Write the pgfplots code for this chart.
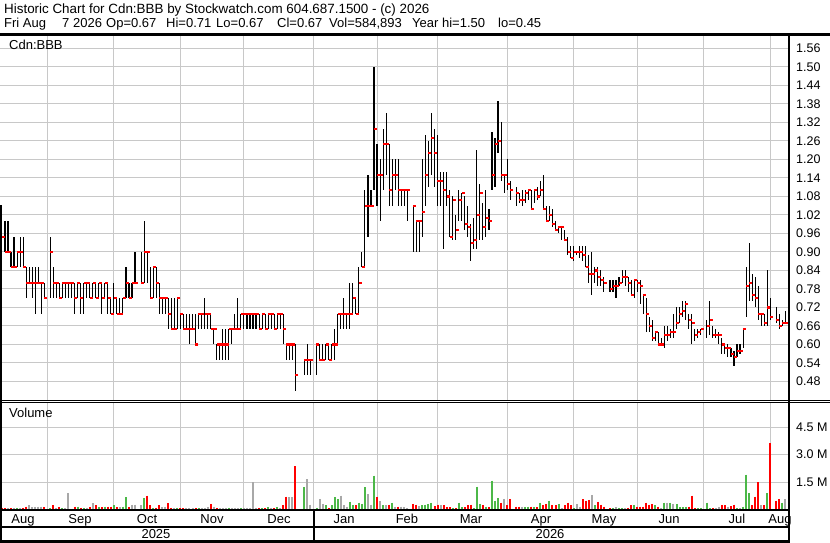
\documentclass[border=0pt]{standalone}
\usepackage{pgfplots}
\pgfplotsset{compat=1.18}
\usepackage{pgfplotstable}
\usepackage{fontspec}
\setmainfont{Liberation Sans}

\definecolor{gridgray}{RGB}{200,200,200}
\definecolor{volgreen}{RGB}{76,184,72}
\definecolor{volgray}{RGB}{168,168,168}
\definecolor{volred}{RGB}{255,0,0}

% daily bars: d = weekday number counted from Mon 1 Sep 2025
\pgfplotstableread{
d hi lo cl
-15 1.05 0.90 0.95
-14 1.00 0.90 0.90
-13 1.00 0.90 0.90
-12 0.90 0.85 0.85
-11 0.95 0.85 0.85
-10 0.90 0.85 0.90
-9 0.95 0.85 0.90
-8 0.95 0.85 0.85
-7 0.85 0.75 0.80
-6 0.85 0.80 0.80
-5 0.85 0.75 0.80
-4 0.85 0.70 0.80
-3 0.85 0.80 0.80
-2 0.80 0.70 0.80
-1 0.80 0.75 0.75
1 0.95 0.75 0.90
2 0.85 0.75 0.80
3 0.80 0.75 0.80
4 0.80 0.75 0.75
5 0.80 0.75 0.80
6 0.80 0.75 0.80
7 0.80 0.75 0.80
8 0.80 0.75 0.80
9 0.80 0.70 0.75
10 0.80 0.75 0.80
11 0.80 0.70 0.75
12 0.80 0.70 0.80
13 0.80 0.75 0.80
14 0.80 0.75 0.75
15 0.80 0.75 0.80
16 0.80 0.75 0.75
17 0.80 0.75 0.80
18 0.80 0.70 0.75
19 0.80 0.75 0.80
20 0.80 0.70 0.75
21 0.75 0.70 0.70
22 0.80 0.70 0.75
23 0.75 0.70 0.70
24 0.75 0.70 0.70
25 0.75 0.70 0.75
26 0.85 0.75 0.80
27 0.80 0.75 0.75
28 0.80 0.75 0.80
29 0.90 0.80 0.80
31 0.90 0.80 0.80
32 1.00 0.80 0.90
33 0.90 0.80 0.90
34 0.85 0.75 0.75
35 0.85 0.75 0.85
36 0.85 0.75 0.80
37 0.80 0.70 0.75
38 0.75 0.70 0.75
39 0.75 0.70 0.75
40 0.75 0.65 0.70
41 0.75 0.65 0.65
42 0.75 0.65 0.65
43 0.75 0.65 0.75
44 0.70 0.65 0.70
45 0.70 0.65 0.65
46 0.70 0.65 0.65
47 0.70 0.60 0.65
48 0.70 0.65 0.65
49 0.70 0.60 0.60
50 0.70 0.65 0.70
51 0.70 0.65 0.70
52 0.75 0.65 0.70
53 0.70 0.65 0.70
54 0.70 0.65 0.65
55 0.65 0.60 0.65
56 0.60 0.55 0.60
57 0.60 0.55 0.60
58 0.65 0.55 0.60
59 0.65 0.55 0.60
60 0.65 0.55 0.65
61 0.65 0.60 0.65
62 0.70 0.65 0.65
63 0.75 0.65 0.65
64 0.70 0.65 0.70
65 0.70 0.65 0.70
66 0.70 0.65 0.70
67 0.70 0.65 0.70
68 0.70 0.65 0.70
69 0.70 0.65 0.70
70 0.70 0.65 0.65
71 0.70 0.65 0.70
72 0.70 0.65 0.65
73 0.70 0.65 0.70
74 0.70 0.65 0.70
75 0.70 0.65 0.65
76 0.70 0.65 0.70
77 0.70 0.65 0.70
78 0.70 0.60 0.65
79 0.60 0.55 0.60
80 0.60 0.55 0.60
81 0.60 0.55 0.60
82 0.60 0.45 0.50
85 0.55 0.50 0.55
86 0.60 0.50 0.55
87 0.55 0.50 0.55
89 0.60 0.50 0.60
90 0.60 0.55 0.55
91 0.60 0.55 0.55
92 0.60 0.55 0.60
93 0.60 0.55 0.55
94 0.60 0.55 0.60
95 0.65 0.55 0.60
96 0.70 0.60 0.70
97 0.70 0.65 0.70
98 0.75 0.65 0.70
99 0.70 0.65 0.70
100 0.80 0.65 0.70
101 0.80 0.70 0.75
102 0.75 0.70 0.70
103 0.85 0.70 0.80
104 0.90 0.85 0.85
105 1.10 0.85 1.05
106 1.15 0.95 1.05
107 1.10 1.05 1.05
108 1.50 1.10 1.30
109 1.25 1.05 1.15
110 1.20 1.00 1.15
111 1.30 1.10 1.25
112 1.35 1.15 1.25
113 1.25 1.05 1.10
114 1.20 1.05 1.15
115 1.20 1.10 1.15
116 1.20 1.05 1.10
117 1.10 1.05 1.10
118 1.10 1.05 1.10
119 1.10 1.00 1.10
121 1.05 0.90 1.05
122 1.00 0.90 1.00
123 1.00 0.90 1.00
124 1.20 0.95 1.03
125 1.28 1.05 1.15
126 1.26 1.11 1.22
127 1.35 1.15 1.27
128 1.30 1.11 1.22
129 1.28 1.05 1.13
130 1.16 1.05 1.13
131 1.16 0.91 1.10
132 1.16 1.05 1.08
133 1.10 0.95 0.95
134 1.08 0.94 1.07
135 1.02 0.94 0.97
136 1.10 1.00 1.07
137 1.09 1.00 1.09
138 1.08 0.97 0.99
139 1.05 0.95 0.98
140 0.99 0.87 0.93
141 1.01 0.91 0.94
142 1.23 0.91 1.02
143 1.12 0.94 1.09
144 1.06 0.94 0.98
145 1.10 0.95 1.01
146 1.04 0.97 1.00
147 1.29 1.10 1.15
148 1.27 1.11 1.25
149 1.39 1.22 1.26
150 1.32 1.13 1.15
151 1.15 1.09 1.15
152 1.20 1.10 1.12
153 1.13 1.07 1.10
155 1.11 1.05 1.09
156 1.09 1.06 1.07
157 1.10 1.05 1.07
158 1.10 1.06 1.09
159 1.10 1.07 1.10
160 1.10 1.04 1.04
161 1.10 1.06 1.10
162 1.11 1.07 1.08
163 1.13 1.08 1.10
164 1.15 1.04 1.04
165 1.05 1.00 1.00
166 1.05 1.00 1.02
167 1.04 0.98 0.99
168 1.00 0.97 0.97
169 0.98 0.96 0.98
170 0.98 0.94 0.98
171 0.97 0.94 0.94
172 0.95 0.89 0.90
173 0.92 0.88 0.88
174 0.92 0.87 0.90
175 0.90 0.89 0.90
176 0.92 0.88 0.90
177 0.92 0.87 0.89
178 0.92 0.86 0.85
179 0.89 0.80 0.83
180 0.90 0.76 0.83
181 0.85 0.80 0.84
182 0.85 0.79 0.82
183 0.84 0.79 0.81
184 0.82 0.77 0.80
186 0.81 0.77 0.78
187 0.81 0.77 0.79
188 0.81 0.75 0.79
189 0.82 0.79 0.80
190 0.84 0.80 0.82
191 0.84 0.79 0.82
192 0.82 0.77 0.80
193 0.81 0.76 0.76
194 0.81 0.75 0.81
195 0.81 0.77 0.80
196 0.81 0.73 0.79
197 0.76 0.70 0.76
198 0.75 0.64 0.70
199 0.69 0.64 0.66
200 0.68 0.61 0.62
201 0.64 0.61 0.64
202 0.64 0.60 0.60
203 0.62 0.60 0.60
204 0.66 0.59 0.63
205 0.66 0.61 0.63
206 0.65 0.62 0.64
207 0.70 0.62 0.64
208 0.72 0.65 0.67
209 0.72 0.67 0.70
210 0.74 0.69 0.71
211 0.74 0.68 0.73
212 0.70 0.65 0.68
213 0.70 0.60 0.67
214 0.65 0.61 0.63
215 0.65 0.62 0.64
216 0.65 0.63 0.65
218 0.68 0.62 0.66
219 0.74 0.63 0.68
220 0.66 0.62 0.63
221 0.65 0.62 0.63
222 0.64 0.60 0.63
223 0.62 0.57 0.60
224 0.60 0.57 0.59
225 0.60 0.56 0.59
226 0.59 0.56 0.57
227 0.58 0.53 0.56
228 0.60 0.56 0.58
229 0.60 0.57 0.58
230 0.65 0.59 0.65
231 0.85 0.69 0.79
232 0.93 0.74 0.80
233 0.83 0.74 0.76
234 0.82 0.72 0.75
235 0.79 0.68 0.70
236 0.70 0.66 0.70
237 0.70 0.66 0.67
238 0.84 0.66 0.72
239 0.75 0.68 0.69
241 0.72 0.67 0.68
242 0.70 0.65 0.66
243 0.68 0.66 0.67
244 0.71 0.67 0.67
}\pricedata

% volume in millions; c: 0 = down (red), 1 = up (green), 2 = unchanged (grey)
\pgfplotstableread{
d v c
-15 0.09 0
-14 0.06 0
-13 0.08 2
-12 0.06 0
-11 0.08 2
-10 0.06 1
-9 0.08 2
-8 0.09 0
-7 0.16 0
-6 0.22 2
-5 0.13 2
-4 0.13 2
-3 0.16 2
-2 0.16 2
-1 0.13 0
1 0.09 1
2 0.22 0
3 0.08 2
4 0.13 0
5 0.09 1
6 0.09 2
7 0.89 2
8 0.05 2
9 0.16 0
10 0.16 1
11 0.09 0
12 0.09 1
13 0.09 2
14 0.13 0
15 0.35 2
16 0.22 0
17 0.13 1
18 0.13 0
19 0.16 1
20 0.16 0
21 0.16 0
22 0.22 1
23 0.13 0
24 0.13 2
25 0.16 1
26 0.68 1
27 0.13 0
28 0.27 2
29 0.27 2
31 0.22 2
32 0.62 1
33 0.76 0
34 0.22 0
35 0.09 1
36 0.09 0
37 0.22 0
38 0.13 2
39 0.16 2
40 0.35 0
41 0.09 0
42 0.09 2
43 0.09 1
44 0.08 0
45 0.08 0
46 0.08 2
47 0.08 2
48 0.08 2
49 0.08 0
50 0.08 1
51 0.09 2
52 0.09 2
53 0.13 2
54 0.31 0
55 0.16 2
56 0.09 0
57 0.08 2
58 0.06 2
59 0.08 2
60 0.09 1
61 0.08 2
62 0.08 2
63 0.08 2
64 0.09 1
65 0.08 2
66 0.09 2
67 0.09 2
68 1.50 2
69 0.09 2
70 0.09 0
71 0.09 1
72 0.08 0
73 0.11 1
74 0.09 2
75 0.09 0
76 0.11 1
77 0.09 2
78 0.22 0
79 0.71 0
80 0.68 2
81 0.68 2
82 2.35 0
85 1.22 1
86 1.64 2
87 0.27 2
89 0.09 1
90 0.55 2
91 0.31 2
92 0.22 1
93 0.06 0
94 0.22 1
95 0.68 1
96 0.55 1
97 0.76 2
98 0.22 2
99 0.16 2
100 0.43 1
101 0.22 1
102 0.22 0
103 0.37 1
104 0.31 1
105 1.22 1
106 0.82 2
107 0.27 2
108 1.85 1
109 0.71 0
110 0.45 2
111 0.22 1
112 0.22 2
113 0.27 0
114 0.37 1
115 0.16 2
116 0.16 0
117 0.16 2
118 0.13 2
119 0.06 2
121 0.31 0
122 0.27 0
123 0.18 2
124 0.22 1
125 0.27 1
126 0.31 1
127 0.37 1
128 0.18 0
129 0.27 0
130 0.22 2
131 0.22 0
132 0.13 0
133 0.13 0
134 0.09 1
135 0.09 0
136 0.37 1
137 0.13 1
138 0.13 0
139 0.22 0
140 0.27 0
141 0.06 1
142 1.25 1
143 0.31 1
144 0.22 0
145 0.16 1
146 0.13 0
147 1.58 1
148 0.49 1
149 0.64 1
150 0.37 0
151 0.58 2
152 0.22 0
153 0.55 0
155 0.16 0
156 0.16 0
157 0.16 2
158 0.13 1
159 0.16 1
160 0.16 0
161 0.13 1
162 0.13 0
163 0.37 1
164 0.22 0
165 0.31 0
166 0.49 1
167 0.22 0
168 0.22 0
169 0.31 1
170 0.06 2
171 0.22 0
172 0.37 0
173 0.22 0
174 0.06 1
175 0.31 2
176 0.16 2
177 0.55 0
178 0.49 0
179 0.53 0
180 0.80 2
181 0.22 1
182 0.43 0
183 0.27 0
184 0.16 0
186 0.06 0
187 0.06 1
188 0.13 2
189 0.09 1
190 0.09 1
191 0.09 2
192 0.09 0
193 0.22 0
194 0.25 1
195 0.16 0
196 0.16 0
197 0.16 0
198 0.37 0
199 0.27 0
200 0.31 0
201 0.22 1
202 0.16 0
203 0.09 2
204 0.37 1
205 0.37 2
206 0.37 1
207 0.31 2
208 0.31 1
209 0.13 1
210 0.13 1
211 0.16 1
212 0.16 0
213 0.76 0
214 0.06 0
215 0.06 1
216 0.09 1
218 0.37 1
219 0.06 1
220 0.09 0
221 0.06 2
222 0.13 2
223 0.25 0
224 0.22 0
225 0.16 2
226 0.18 0
227 0.27 0
228 0.06 1
229 0.06 2
230 0.16 1
231 1.91 1
232 0.89 1
233 0.22 0
234 0.71 0
235 1.50 0
236 0.22 2
237 0.22 0
238 0.89 1
239 3.62 0
241 0.49 0
242 0.58 0
243 0.37 1
244 0.585 2
}\voldata

\tikzset{lab/.style={font=\fontsize{13bp}{15bp}\selectfont, inner sep=0pt}}
\pgfplotsset{
  panel/.style={
    scale only axis, width=789bp,
    xmin=-15.64, xmax=245.19,
    axis line style={draw=none}, major tick length=0pt,
    xtick={0,22,44,65,88,109,129,152,174,195,217,239}, xticklabels={},
    yticklabel pos=right,
    yticklabel style={font=\fontsize{12.5bp}{14bp}\selectfont, anchor=west, inner sep=0pt, xshift=7bp},
    grid=major, major grid style={draw=gridgray, line width=1bp},
  },
  volbar/.style={draw=none, mark=none, unbounded coords=discard,
    restrict expr to domain={\thisrow{c}}{#1:#1},
    error bars/.cd, y dir=minus, y explicit, error mark=none},
}

\begin{document}
\begin{tikzpicture}
\useasboundingbox (0bp,0bp) rectangle (830bp,543bp);

% price panel
\begin{axis}[panel, at={(0bp,143bp)}, anchor=south west, height=364bp,
  ymin=0.4199, ymax=1.6005,
  ytick={0.48,0.54,0.60,0.66,0.72,0.78,0.84,0.90,0.96,1.02,1.08,1.14,1.20,1.26,1.32,1.38,1.44,1.50,1.56},
  yticklabels={0.48,0.54,0.60,0.66,0.72,0.78,0.84,0.90,0.96,1.02,1.08,1.14,1.20,1.26,1.32,1.38,1.44,1.50,1.56},
]
\addplot[draw=none, mark=none,
  error bars/.cd, y dir=both, y explicit, error mark=none,
  error bar style={draw=black, solid, line width=1.1bp}]
  table[x=d, y=cl, y error plus expr=\thisrow{hi}-\thisrow{cl},
        y error minus expr=\thisrow{cl}-\thisrow{lo}] {\pricedata};
\addplot[only marks, mark=-, mark size=1.5bp,
  mark options={draw=red, line width=2.1bp, xshift=1.4bp}]
  table[x=d, y=cl] {\pricedata};
\end{axis}

% volume panel
\begin{axis}[panel, at={(0bp,33.5bp)}, anchor=south west, height=106.5bp,
  ymin=0, ymax=5.82,
  ytick={1.5,3,4.5}, yticklabels={1.5 M,3.0 M,4.5 M},
]
\addplot[volbar=0, error bar style={draw=volred, solid, line width=2bp}]
  table[x=d, y=v, y error minus expr=\thisrow{v}+1] {\voldata};
\addplot[volbar=1, error bar style={draw=volgreen, solid, line width=2bp}]
  table[x=d, y=v, y error minus expr=\thisrow{v}+1] {\voldata};
\addplot[volbar=2, error bar style={draw=volgray, solid, line width=2bp}]
  table[x=d, y=v, y error minus expr=\thisrow{v}+1] {\voldata};
\end{axis}

% frame
\draw[line width=3bp] (0bp,508.5bp) -- (830bp,508.5bp);
\draw[line width=1bp] (0bp,142.5bp) -- (830bp,142.5bp);
\draw[line width=1bp] (0bp,140.5bp) -- (830bp,140.5bp);
\draw[line width=2bp] (789bp,0bp) -- (789bp,510bp);
\draw[line width=2bp] (0bp,33bp) -- (789bp,33bp);
\draw[line width=2bp] (0bp,16bp) -- (789bp,16bp);
\draw[line width=2bp] (0bp,1.5bp) -- (789bp,1.5bp);
\draw[line width=2bp] (314bp,0bp) -- (314bp,33bp);
\draw[line width=2.4bp] (1.2bp,0bp) -- (1.2bp,338bp);

% header
\node[lab, font=\fontsize{13.4bp}{15bp}\selectfont, anchor=base west] at (4bp,529.5bp) {Historic Chart for Cdn:BBB by Stockwatch.com 604.687.1500 - (c) 2026};
\node[lab, anchor=base west] at (4bp,515.5bp) {Fri Aug};
\node[lab, anchor=base west] at (62bp,515.5bp) {7};
\node[lab, anchor=base west] at (73bp,515.5bp) {2026};
\node[lab, anchor=base west] at (106bp,515.5bp) {Op=0.67};
\node[lab, anchor=base west] at (166bp,515.5bp) {Hi=0.71};
\node[lab, anchor=base west] at (216bp,515.5bp) {Lo=0.67};
\node[lab, anchor=base west] at (277bp,515.5bp) {Cl=0.67};
\node[lab, anchor=base west] at (329bp,515.5bp) {Vol=584,893};
\node[lab, anchor=base west] at (412bp,515.5bp) {Year hi=1.50};
\node[lab, anchor=base west] at (498bp,515.5bp) {lo=0.45};
\node[lab, anchor=base west] at (9bp,493bp) {Cdn:BBB};
\node[lab, anchor=base west] at (9bp,125bp) {Volume};

% month and year labels
\foreach \m/\x in {Aug/23,Sep/80,Oct/147,Nov/212,Dec/279,Jan/344,Feb/407,Mar/471,Apr/541,May/604,Jun/669,Jul/737,Aug/780}
  \node[lab, anchor=base] at (\x bp,20bp) {\m};
\node[lab, anchor=base] at (156bp,4.5bp) {2025};
\node[lab, anchor=base] at (550bp,4.5bp) {2026};
\end{tikzpicture}
\end{document}
